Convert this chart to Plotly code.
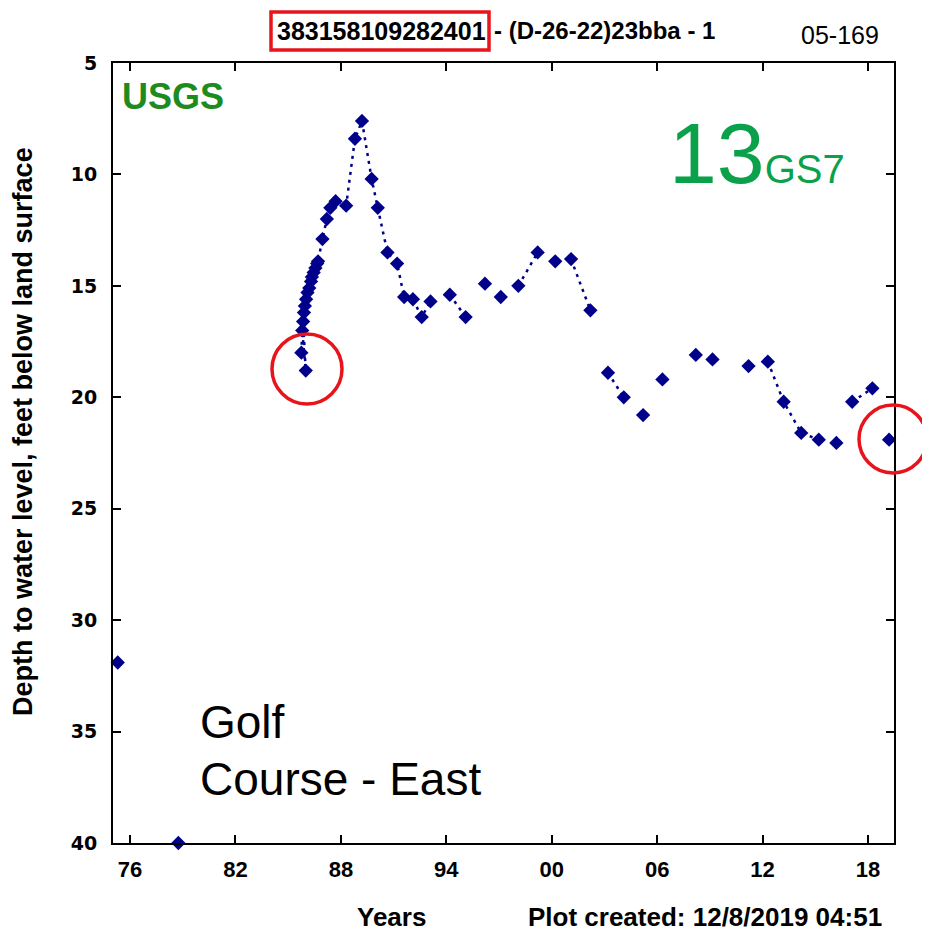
import plotly.graph_objects as go

# ---- data ----
years = [1975.3, 1978.75,
         1985.75, 1985.8, 1986.0, 1985.85, 1985.9, 1985.95, 1986.02, 1986.1, 1986.2, 1986.3,
         1986.35, 1986.45, 1986.55, 1986.65, 1986.7,
         1986.95, 1987.2, 1987.4, 1987.7, 1988.3, 1988.8, 1989.2, 1989.75, 1990.1,
         1990.65, 1991.2, 1991.6, 1992.1, 1992.6, 1993.1, 1994.2, 1995.1, 1996.2,
         1997.1, 1998.1, 1999.2, 2000.2, 2001.1, 2002.2, 2003.2, 2004.1, 2005.2,
         2006.3, 2008.2, 2009.15, 2011.2, 2012.3, 2013.2, 2014.2, 2015.2, 2016.2,
         2017.1, 2018.25, 2019.2]
depths = [31.9, 40.0,
          18.0, 17.0, 18.8, 16.6, 16.2, 15.9, 15.6, 15.3, 15.1, 14.8,
          14.6, 14.4, 14.2, 14.0, 13.9,
          12.9, 12.0, 11.5, 11.2, 11.4, 8.4, 7.6, 10.2, 11.5,
          13.5, 14.0, 15.5, 15.6, 16.4, 15.7, 15.4, 16.4, 14.9,
          15.5, 15.0, 13.5, 13.9, 13.8, 16.1, 18.9, 20.0, 20.8,
          19.2, 18.1, 18.3, 18.6, 18.4, 20.2, 21.6, 21.9, 22.05,
          20.2, 19.6, 21.9]
# whether a dotted line joins each point to the previous one
joined = [False, False,
          False, True, True, True, True, True, True, True, True, True,
          True, True, True, True, True,
          True, True, True, True, True, True, True, True, True,
          True, True, True, True, True, True, False, True, False,
          False, False, True, False, False, True, False, True, False,
          False, False, False, False, False, True, True, True, False,
          False, True, False]

x_tickvals = [1976, 1982, 1988, 1994, 2000, 2006, 2012, 2018]
x_ticktext = ["76", "82", "88", "94", "00", "06", "12", "18"]
y_tickvals = [5, 10, 15, 20, 25, 30, 35, 40]

# ---- layout geometry (page pixels; the page body has an 8px margin) ----
OFF = 8
W, H = 930 - OFF, 940 - OFF
PL, PR, PT, PB = 113, 894, 63, 843   # plot box in page pixels


def px(x):
    return (x - PL) / (PR - PL)


def py(y):
    return (PB - y) / (PB - PT)


NAVY = "#00008B"
RED = "#E8141B"

lx, ly = [], []
for i, (xv, yv) in enumerate(zip(years, depths)):
    if i > 0 and not joined[i]:
        lx.append(None)
        ly.append(None)
    lx.append(xv)
    ly.append(yv)

fig = go.Figure()
fig.add_trace(go.Scatter(x=lx, y=ly, mode="lines",
                         line=dict(color=NAVY, width=2.5, dash="3px,5px"),
                         connectgaps=False, hoverinfo="skip", cliponaxis=False))
fig.add_trace(go.Scatter(x=years, y=depths, mode="markers",
                         marker=dict(symbol="diamond", size=11, color=NAVY),
                         cliponaxis=False))

arial = "Liberation Sans, Arial, sans-serif"

fig.update_layout(
    width=W, height=H,
    margin=dict(l=PL - OFF, r=W - (PR - OFF), t=PT - OFF, b=H - (PB - OFF), pad=0),
    paper_bgcolor="white", plot_bgcolor="white",
    showlegend=False,
    xaxis=dict(range=[1975.03, 2019.48], tickvals=x_tickvals, ticktext=x_ticktext,
               ticks="inside", ticklen=8, tickwidth=2, tickcolor="black",
               showline=True, linecolor="black", linewidth=2, mirror="ticks",
               showgrid=False, zeroline=False, ticklabelstandoff=6,
               tickfont=dict(family=arial, size=22, color="black", weight="bold")),
    yaxis=dict(range=[40, 5], tickvals=y_tickvals,
               ticks="inside", ticklen=8, tickwidth=2, tickcolor="black",
               showline=True, linecolor="black", linewidth=2, mirror="ticks",
               showgrid=False, zeroline=False, ticklabelstandoff=10,
               tickfont=dict(family="DejaVu Sans, sans-serif", size=19, color="black",
                             weight="bold")),
)

ann = []
# title pieces
ann.append(dict(x=px(381), y=py(31), text="383158109282401", showarrow=False,
                xanchor="center", yanchor="middle",
                font=dict(family=arial, size=25, color="black", weight="bold")))
ann.append(dict(x=px(492), y=py(31), text="- (D-26-22)23bba - 1", showarrow=False,
                xanchor="left", yanchor="middle",
                font=dict(family=arial, size=24, color="black", weight="bold")))
ann.append(dict(x=px(840), y=py(35), text="05-169", showarrow=False,
                xanchor="center", yanchor="middle",
                font=dict(family=arial, size=25, color="black")))
# axis titles
ann.append(dict(x=px(23), y=py(432), text="Depth to water level, feet below land surface",
                showarrow=False, textangle=-90, xanchor="center", yanchor="middle",
                font=dict(family=arial, size=27, color="black", weight="bold")))
ann.append(dict(x=px(391), y=py(917), text="Years", showarrow=False,
                xanchor="center", yanchor="middle",
                font=dict(family=arial, size=26, color="black", weight="bold")))
ann.append(dict(x=px(705), y=py(917), text="Plot created: 12/8/2019 04:51", showarrow=False,
                xanchor="center", yanchor="middle",
                font=dict(family=arial, size=26, color="black", weight="bold")))
# in-plot labels
ann.append(dict(x=px(120), y=py(97), text="USGS", showarrow=False,
                xanchor="left", yanchor="middle",
                font=dict(family=arial, size=36, color="#1E8B1E", weight="bold")))
ann.append(dict(x=px(667), y=py(153),
                text="13<span style='font-size:40px'>GS7</span>", showarrow=False,
                xanchor="left", yanchor="middle",
                font=dict(family=arial, size=86, color="#0BA14B")))
ann.append(dict(x=px(198), y=py(722), text="Golf", showarrow=False,
                xanchor="left", yanchor="middle",
                font=dict(family=arial, size=46, color="black")))
ann.append(dict(x=px(198), y=py(779), text="Course - East", showarrow=False,
                xanchor="left", yanchor="middle",
                font=dict(family=arial, size=46, color="black")))
for a in ann:
    a["xref"] = "paper"
    a["yref"] = "paper"
fig.update_layout(annotations=ann)

shapes = [
    dict(type="rect", xref="paper", yref="paper",
         x0=px(271), x1=px(489), y0=py(50), y1=py(12),
         line=dict(color=RED, width=3.5), fillcolor="rgba(0,0,0,0)"),
    dict(type="circle", xref="paper", yref="paper", xsizemode="pixel", ysizemode="pixel",
         xanchor=px(307), yanchor=py(369), x0=-35, x1=35, y0=-35, y1=35,
         line=dict(color=RED, width=3.5)),
    dict(type="circle", xref="paper", yref="paper", xsizemode="pixel", ysizemode="pixel",
         xanchor=px(893), yanchor=py(439), x0=-34, x1=34, y0=-34, y1=34,
         line=dict(color=RED, width=3.5)),
]
fig.update_layout(shapes=shapes)

fig.write_html("out.html")
